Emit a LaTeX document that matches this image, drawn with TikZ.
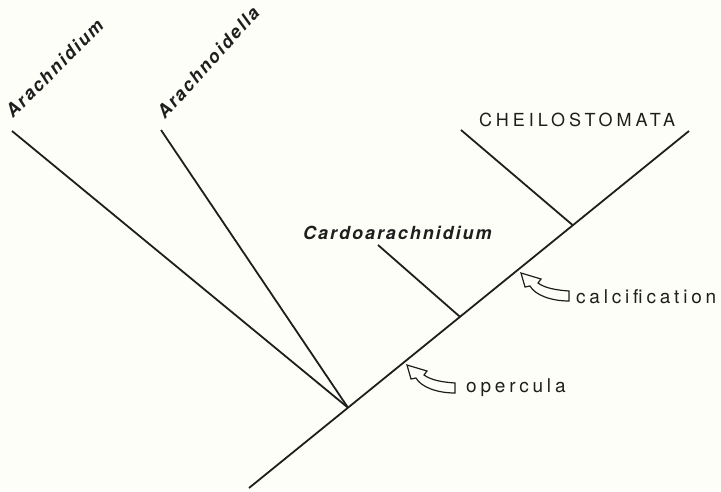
\documentclass[tikz,border=0pt]{standalone}
\usepackage{fontspec}
\setmainfont{TeX Gyre Heros}
\usetikzlibrary{calc}
\definecolor{paper}{RGB}{254,254,248}
\definecolor{ink}{RGB}{30,30,30}
\tikzset{
  branch/.style={draw=ink, line width=1.8pt},
  arrowline/.style={draw=ink, line width=1.2pt, line join=miter},
  taxon/.style={inner sep=0pt, anchor=base west, text=ink,
    font=\fontsize{18}{20}\selectfont\bfseries\itshape\addfontfeature{LetterSpace=11}},
  group/.style={inner sep=0pt, anchor=base west, text=ink,
    font=\fontsize{18}{21}\selectfont\addfontfeature{LetterSpace=22}},
  note/.style={inner sep=0pt, anchor=base west, text=ink,
    font=\fontsize{19}{22}\selectfont\addfontfeature{LetterSpace=20}},
  hollowarrow/.pic={
    \draw[arrowline] (48,18) .. controls (34,17) and (24,15) .. (17,10)
      -- (20,6) -- (0,0) -- (4,14) -- (9,13)
      .. controls (14,22) and (30,28) .. (48,28) -- cycle;
  }
}
\begin{document}
\begin{tikzpicture}[x=1pt,y=-1pt]
\fill[paper] (0,0) rectangle (721,491);
\useasboundingbox (0,0) rectangle (721,491);
% main stem
\coordinate (B) at (249,488);
\coordinate (T) at (689,131);
\coordinate (J1) at ($(B)!0.225!(T)$);
\coordinate (J2) at ($(B)!0.4795!(T)$);
\coordinate (J3) at ($(B)!0.736!(T)$);
% branch ends
\coordinate (A1) at (12,131);
\coordinate (A2) at (161,130);
\coordinate (C1) at (378,245);
\coordinate (C2) at (461,130);
\draw[branch] (B) -- (T);
\draw[branch] (A1) -- (J1);
\draw[branch] (A2) -- (J1);
\draw[branch] (C1) -- (J2);
\draw[branch] (C2) -- (J3);
% labels
\node[taxon, rotate=45] (arachnidium) at (13,119) {Arachnidium};
\node[taxon, rotate=48] (arachnoidella) at (165,120) {Arachnoidella};
\node[taxon] (cardo) at (303,239) {Cardoarachnidium};
\node[group] (cheilo) at (479,126) {CHEILOSTOMATA};
\node[note] (calc) at (576,303) {calcification};
\node[note] (operc) at (466,392) {opercula};
% arrows
\pic at (407,365) {hollowarrow};
\pic at (521,273) {hollowarrow};
\end{tikzpicture}
\end{document}
